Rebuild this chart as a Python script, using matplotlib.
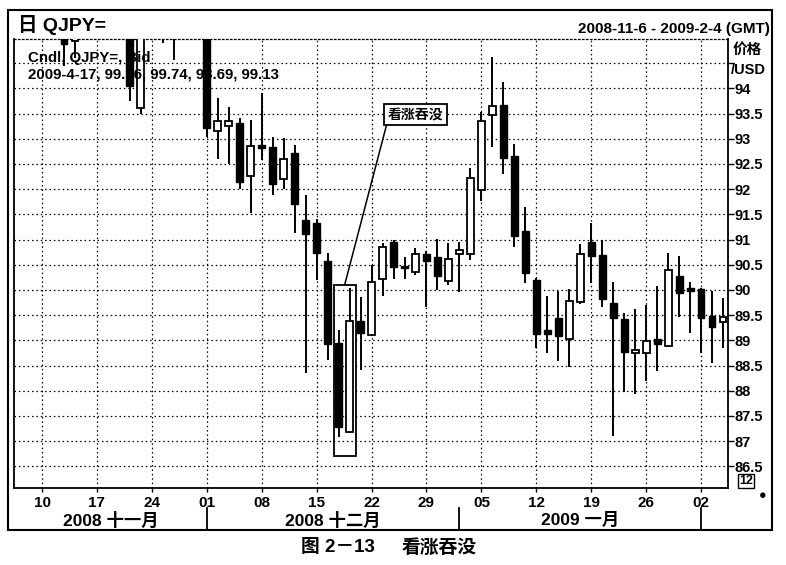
import numpy as np
import pandas as pd
import matplotlib
matplotlib.use('Agg')
import matplotlib.pyplot as plt
from matplotlib.patches import Rectangle
import matplotlib.transforms as mtransforms

plt.rcParams['font.family'] = ['Liberation Sans', 'Noto Sans CJK SC', 'DejaVu Sans']
plt.rcParams['font.weight'] = 'bold'

# trading days shown on the chart
dates = pd.bdate_range('2008-11-06', '2009-02-04')

opens = [98.6, 97.6, 98.2, 98.4, 97.0, 94.95, 97.9, 96.8, 96.4, 97.5,
         96.3, 93.61, 96.0, 97.2, 95.6, 95.3, 95.4, 95.5, 93.15, 93.25,
         93.31, 92.26, 92.86, 92.84, 92.20, 92.72, 91.39, 91.33, 90.58, 88.95,
         87.18, 89.38, 89.11, 90.22, 90.95, 90.45, 90.36, 90.71, 90.65, 90.18,
         90.71, 90.71, 91.98, 93.47, 93.67, 92.66, 91.17, 90.2, 89.21, 89.44,
         89.03, 89.76, 90.95, 90.69, 89.74, 89.42, 88.75, 88.75, 89.03, 88.89,
         90.28, 90.02, 90.02, 89.48, 89.37]
highs = [99.0, 98.6, 98.9, 98.6, 97.3, 98.3, 98.2, 97.3, 97.7, 97.9,
         96.6, 96.0, 97.6, 97.5, 95.9, 95.9, 95.8, 95.8, 93.81, 93.63,
         93.41, 93.37, 93.9, 93.04, 93.02, 92.88, 91.88, 91.4, 90.73, 89.2,
         90.04, 89.86, 90.5, 90.93, 91.0, 90.65, 90.83, 90.77, 91.01, 90.93,
         90.95, 92.42, 93.53, 94.62, 94.13, 92.9, 91.65, 90.24, 89.88, 89.98,
         90.02, 90.91, 91.33, 90.99, 90.16, 89.54, 89.62, 89.7, 90.08, 90.73,
         90.67, 90.16, 90.04, 89.98, 89.84]
lows = [97.3, 97.1, 97.9, 96.6, 94.45, 94.6, 96.5, 95.9, 96.0, 96.1,
        93.75, 93.5, 95.9, 94.9, 94.56, 95.1, 95.1, 93.04, 92.6, 92.5,
        92.0, 91.53, 92.58, 91.88, 92.0, 91.13, 88.35, 90.2, 88.61, 87.08,
        87.16, 88.41, 89.08, 89.88, 90.22, 90.22, 90.3, 89.66, 90.0, 90.1,
        89.96, 90.6, 91.77, 92.84, 92.3, 90.85, 90.14, 88.85, 88.75, 88.59,
        88.47, 89.72, 90.14, 89.66, 87.1, 87.98, 87.94, 88.19, 88.39, 88.87,
        89.46, 89.15, 88.75, 88.55, 88.85]
closes = [97.6, 98.2, 98.4, 97.0, 94.88, 97.9, 96.8, 96.4, 97.5, 96.3,
          94.05, 95.8, 97.3, 95.6, 95.3, 95.4, 95.5, 93.21, 93.35, 93.35,
          92.14, 92.86, 92.82, 92.10, 92.60, 91.71, 91.11, 90.73, 88.93, 87.28,
          89.38, 89.15, 90.16, 90.85, 90.46, 90.43, 90.71, 90.58, 90.28, 90.62,
          90.79, 92.22, 93.35, 93.65, 92.62, 91.07, 90.34, 89.13, 89.13, 89.09,
          89.78, 90.71, 90.67, 89.82, 89.44, 88.77, 88.81, 88.99, 88.93, 90.4,
          89.94, 89.98, 89.44, 89.27, 89.46]

price_ticks = [86.5, 87, 87.5, 88, 88.5, 89, 89.5, 90, 90.5, 91, 91.5, 92, 92.5, 93, 93.5, 94, 94.5]
month_names = ['2008 十一月', '2008 十二月', '2009 一月']

df = pd.DataFrame({'open': opens, 'high': highs, 'low': lows, 'close': closes}, index=dates)
x = np.arange(len(df))
up = df['close'] >= df['open']

W, H = 786, 565
fig = plt.figure(figsize=(W / 100, H / 100), dpi=100)
ax = fig.add_axes([14 / W, 77 / H, 714 / W, 449 / H])

# candles
ax.vlines(x, df['low'], df['high'], color='black', lw=1.4, zorder=2)
body_lo = np.minimum(df['open'], df['close'])
body_h = np.maximum((df['close'] - df['open']).abs(), 0.05)
ax.bar(x[up], body_h[up], bottom=body_lo[up], width=0.62, color='white',
       edgecolor='black', linewidth=1.3, zorder=3)
ax.bar(x[~up], body_h[~up], bottom=body_lo[~up], width=0.62, color='black',
       edgecolor='black', linewidth=1.0, zorder=3)

ax.set_xlim(-0.55, 64.45)
ax.set_ylim(86.07, 94.98)

# grid on mondays and every half yen
mondays = [i for i, d in enumerate(dates) if d.weekday() == 0]
ax.set_xticks(mondays)
ax.set_xticklabels([dates[i].strftime('%d') for i in mondays], fontsize=11, fontweight='bold')
ax.set_yticks(price_ticks)
ax.set_yticklabels(['%g' % v if v < 94.5 else '' for v in price_ticks], fontsize=10.5, fontweight='bold')
ax.yaxis.tick_right()
ax.tick_params(axis='y', length=4, width=1, pad=1)
ax.tick_params(axis='x', length=3, width=1, pad=3)
ax.grid(True, color='black', linestyle=(0, (1.2, 2.3)), linewidth=0.9, zorder=0)
ax.set_axisbelow(True)
for s in ['left', 'bottom', 'right']:
    ax.spines[s].set_linewidth(1.3)
ax.spines['top'].set_linestyle((0, (1.2, 2.0)))
ax.spines['top'].set_linewidth(0.9)

# month row
trans = mtransforms.blended_transform_factory(ax.transData, ax.transAxes)
month_start = [i for i in range(1, len(dates)) if dates[i].month != dates[i - 1].month]
edges = [-0.55] + month_start + [64.45]
for k, name in enumerate(month_names):
    ax.text((edges[k] + edges[k + 1]) / 2, -0.072, name, transform=trans, ha='center',
            va='center', fontsize=12.5, fontweight='bold')
for i in month_start:
    ax.plot([i, i], [-0.045, -0.094], transform=trans, color='black', lw=1.3, clip_on=False)

# legend text
ax.text(0.02, 0.958, 'Cndl, QJPY=, Bid', transform=ax.transAxes, fontsize=10.8, va='center')
ax.text(0.02, 0.92, '2009-4-17, 99.16, 99.74, 98.69, 99.13', transform=ax.transAxes,
        fontsize=10.8, va='center')

# bullish engulfing annotation
ax.add_patch(Rectangle((28.55, 86.71), 2.0, 3.39, fill=False, edgecolor='black', lw=1.3, zorder=4))
ax.plot([33.36, 29.55], [93.27, 90.1], color='black', lw=1.1, zorder=4)
ax.text(36.0, 93.48, '看涨吞没', ha='center', va='center', fontsize=10, fontweight='bold', zorder=5,
        bbox=dict(boxstyle='square,pad=0.25', facecolor='white', edgecolor='black', lw=1.3))

# header and frame
fig.text(18 / W, 1 - 25 / H, '日 QJPY=', fontsize=14, fontweight='bold', va='center')
fig.text(770 / W, 1 - 29 / H, '2008-11-6 - 2009-2-4 (GMT)', fontsize=11, fontweight='bold',
         ha='right', va='center')
fig.text(733 / W, 1 - 50 / H, '价格', fontsize=10.5, fontweight='bold', va='center')
fig.text(731 / W, 1 - 70 / H, '/USD', fontsize=10.5, fontweight='bold', va='center')
fig.text(746 / W, 1 - 481 / H, '12', fontsize=9, ha='center', va='center',
         bbox=dict(boxstyle='square,pad=0.1', facecolor='white', edgecolor='black', lw=1))
fig.text(763 / W, 1 - 496 / H, '●', fontsize=9, ha='center', va='center')
fig.patches.append(Rectangle((8 / W, 1 - 530 / H), 764 / W, 520 / H, transform=fig.transFigure,
                             fill=False, edgecolor='black', lw=1.5))

fig.text(338 / W, 1 - 548 / H, '图 2－13', fontsize=13.5, fontweight='bold', ha='center', va='center')
fig.text(439 / W, 1 - 548 / H, '看涨吞没', fontsize=13.5, fontweight='bold', ha='center', va='center')

fig.savefig('out.png', dpi=100)
